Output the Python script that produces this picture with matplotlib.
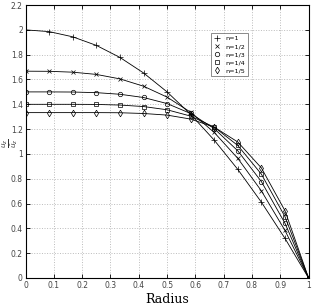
import matplotlib
matplotlib.use("Agg")
import matplotlib.pyplot as plt
import numpy as np

# radius positions (r/R) where the profiles are sampled
radius = [0, 0.0833, 0.1667, 0.25, 0.3333, 0.4167, 0.5, 0.5833, 0.6667, 0.75, 0.8333, 0.9167, 1.0]

# normalised velocity u_z / mean u_z for each flow index n
u_n1 = [2.0, 1.986, 1.944, 1.875, 1.778, 1.653, 1.5, 1.319, 1.111, 0.875, 0.611, 0.319, 0.0]
u_n2 = [1.667, 1.666, 1.659, 1.641, 1.605, 1.546, 1.458, 1.336, 1.173, 0.964, 0.702, 0.383, 0.0]
u_n3 = [1.5, 1.5, 1.499, 1.494, 1.481, 1.455, 1.406, 1.326, 1.204, 1.025, 0.777, 0.441, 0.0]
u_n4 = [1.4, 1.4, 1.4, 1.399, 1.394, 1.382, 1.356, 1.305, 1.216, 1.068, 0.837, 0.494, 0.0]
u_n5 = [1.333, 1.333, 1.333, 1.333, 1.332, 1.326, 1.313, 1.281, 1.216, 1.096, 0.887, 0.542, 0.0]

labels = ['n=1', 'n=1/2', 'n=1/3', 'n=1/4', 'n=1/5']
markers = ['+', 'x', 'o', 's', 'd']
sizes = [4, 3, 3.2, 3, 3.4]
series = [u_n1, u_n2, u_n3, u_n4, u_n5]

fig = plt.figure(figsize=(3.12, 3.07), dpi=100)
ax = fig.add_axes([0.082, 0.0945, 0.907, 0.889])

for vals, mk, ms, lab in zip(series, markers, sizes, labels):
    ax.plot(radius, vals, color='black', lw=0.6)
    ax.plot(radius, vals, linestyle='none', marker=mk, markersize=ms,
            markerfacecolor='none', markeredgecolor='black',
            markeredgewidth=0.5, label=lab)

ax.set_xlim(0, 1)
ax.set_ylim(0, 2.2)
ax.set_xticks(np.arange(0, 1.01, 0.1))
ax.set_xticklabels(['0', '0.1', '0.2', '0.3', '0.4', '0.5', '0.6', '0.7', '0.8', '0.9', '1'])
ax.set_yticks(np.arange(0, 2.21, 0.2))
ax.set_yticklabels(['0', '0.2', '0.4', '0.6', '0.8', '1', '1.2', '1.4', '1.6', '1.8', '2', '2.2'])
ax.tick_params(direction='in', length=3, width=0.6, labelsize=5.5, pad=2,
               top=True, right=True, colors='black', labelcolor='#444444')
ax.grid(True, linestyle=':', color='#bbbbbb', linewidth=0.7)
for s in ax.spines.values():
    s.set_linewidth(0.8)

ax.set_xlabel('Radius', family='serif', fontsize=9, labelpad=2)
fig.text(0.032, 0.535, r'$\frac{u_z}{\bar{u}_z}$', fontsize=7.5, rotation=90,
         ha='center', va='center', color='#333333')

leg = ax.legend(loc='upper left', bbox_to_anchor=(0.645, 0.91), fontsize=4.6,
                frameon=True, fancybox=False, edgecolor='#555555',
                handlelength=1.0, handletextpad=0.7, labelspacing=0.4,
                borderpad=0.45)
leg.get_frame().set_linewidth(0.6)

fig.savefig('out.png', dpi=100)
